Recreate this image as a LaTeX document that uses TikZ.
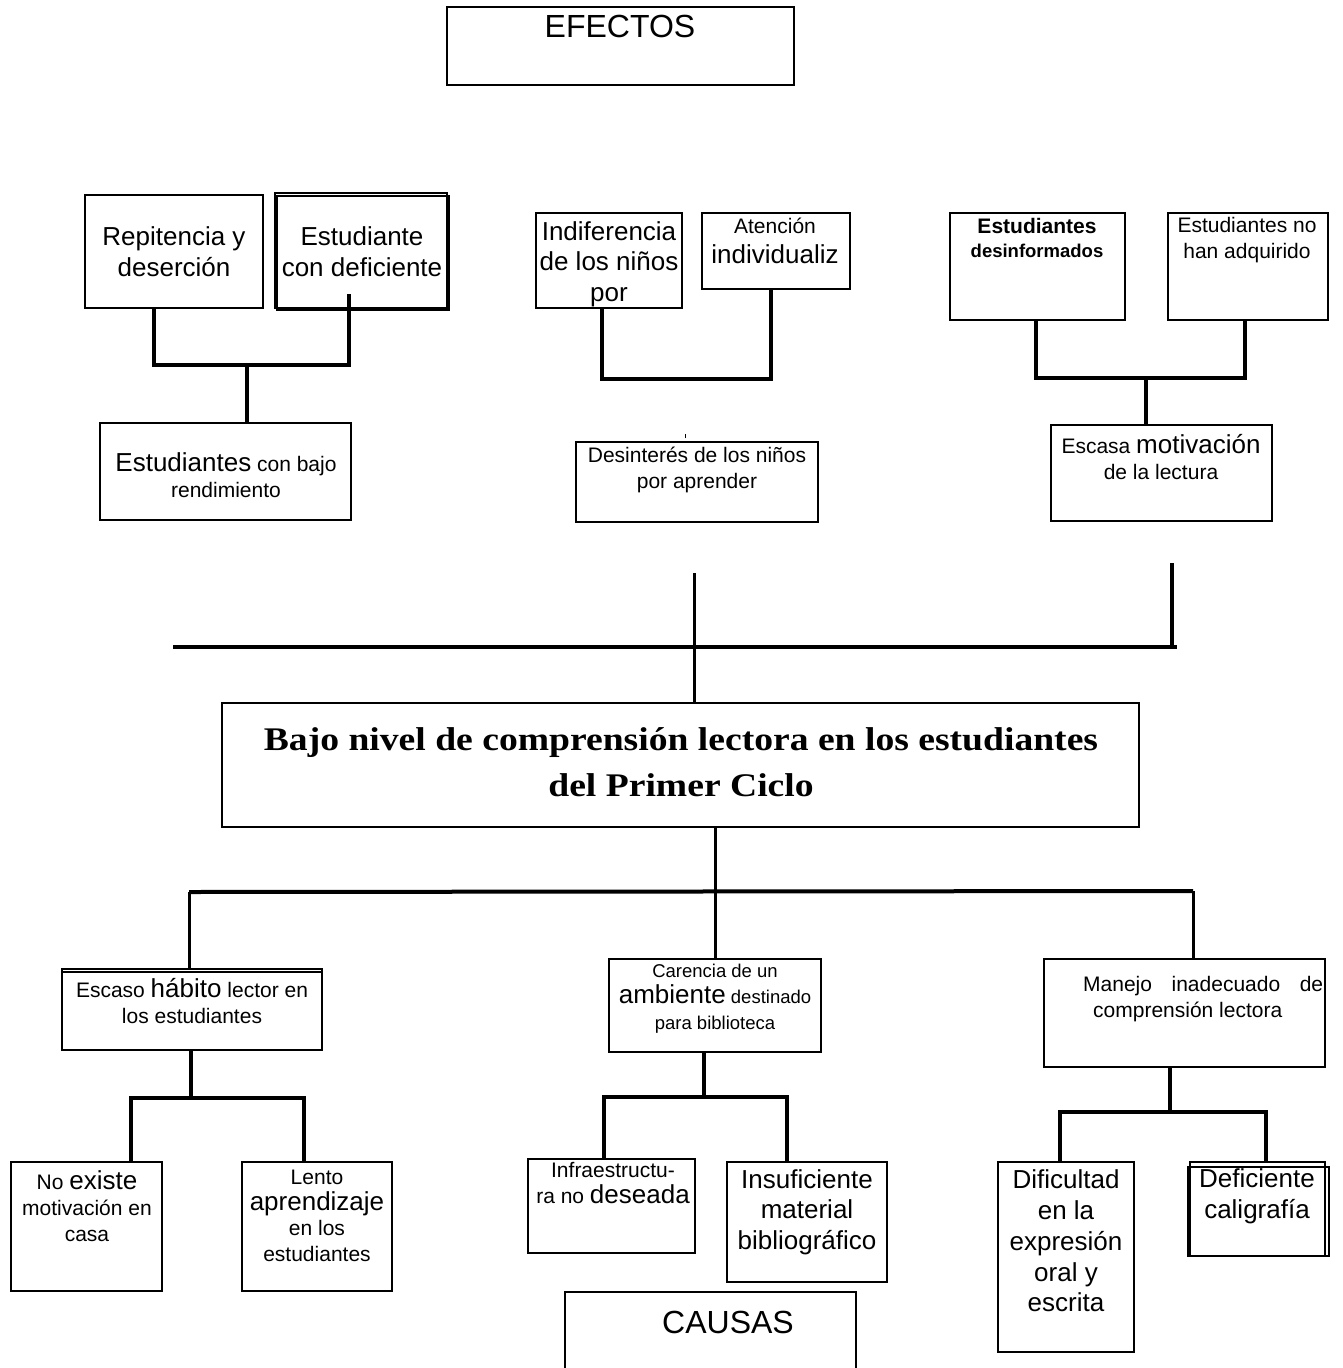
\documentclass[tikz,border=0pt]{standalone}
\usepackage{fontspec}
\setmainfont{Liberation Sans}
\newfontfamily\titlefont[FakeStretch=1.14]{Liberation Serif}
\usetikzlibrary{fit}
\newcommand\fsL{\fontsize{26}{30.7}\selectfont}
\newcommand\fsS{\fontsize{21}{25.7}\selectfont}
\newcommand\fsT{\fontsize{18.5}{26}\selectfont}
\tikzset{
  box/.style={draw, line width=1.3pt, inner sep=0pt},
  boxline/.style={line width=1.3pt},
  conn/.style={line width=4pt},
  mid/.style={line width=3pt},
  txt/.style={align=center, inner sep=0pt},
}
\begin{document}
\begin{tikzpicture}[x=1pt,y=-1pt]
\useasboundingbox (0,0) rectangle (1343,1368);
\fill[white] (0,0) rectangle (1343,1368);
\clip (0,0) rectangle (1343,1368);

% ---------- EFECTOS ----------
\node[box, fit={(447,7) (794,85)}] (efe) {};
\node[txt, font=\fontsize{32}{38}\selectfont] (efe-t) at (620,26) {EFECTOS};

% ---------- group 1 ----------
\node[box, fit={(85,195) (263,308)}] (rep) {};
\node[box, fit={(275,193) (447,308)}] (def) {};
\node[box, fit={(277,196) (449,310)}] (def2) {};
\node[box, fit={(100,423) (351,520)}] (bajo) {};
\node[txt, font=\fsL] (rep-t) at (174,252) {Repitencia y\\deserción};
\node[txt, font=\fsL] (def-t) at (362,252) {Estudiante\\con deficiente};
\node[txt, font=\fsS] (bajo-t) at (226,475) {{\fsL Estudiantes} con bajo\\rendimiento};
\coordinate (j1) at (247,365);
\draw[conn] ([xshift=-20pt]rep.south) |- (j1) -| ([xshift=-12pt,yshift=15pt]def.south);
\draw[conn] (j1) -- (j1 |- bajo.north);

% ---------- group 2 ----------
\node[box, fit={(536,213) (682,308)}] (ind) {};
\node[box, fit={(702,213) (850,289)}] (ate) {};
\node[box, fit={(576,442) (818,522)}] (des) {};
\node[txt, font=\fsL] (ind-t) at (609,264) {Indiferencia\\de los niños\\por};
\node[txt, font=\fsL] (ate-t) at (775,241) {{\fsS Atención}\\individualiz};
\node[txt, font=\fsS] (des-t) at (697,470) {Desinterés de los niños\\por aprender};
\draw[conn] ([xshift=-7pt]ind.south) -- ++(0,70) -| ([xshift=-5pt]ate.south);
\draw[line width=0.8pt] ([xshift=-12pt,yshift=3pt]des.north) -- ++(0,-4);

% ---------- group 3 ----------
\node[box, fit={(950,213) (1125,320)}] (desinf) {};
\node[box, fit={(1168,213) (1328,320)}] (noad) {};
\node[box, fit={(1051,425) (1272,521)}] (esc) {};
\node[txt, font=\bfseries\fontsize{21}{24.5}\selectfont] (desinf-t) at (1037,238) {Estudiantes\\{\fontsize{18.5}{24.5}\selectfont desinformados}};
\node[txt, font=\fsS] (noad-t) at (1247,240) {Estudiantes no\\han adquirido};
\node[txt, font=\fsS] (esc-t) at (1161,457) {Escasa {\fsL motivación}\\de la lectura};
\coordinate (j3) at (1146,378);
\draw[conn] ([xshift=-1.5pt]desinf.south) |- (j3) -| ([xshift=-3pt]noad.south);
\draw[conn] (j3) -- (j3 |- esc.north);

% ---------- central problem ----------
\node[box, fit={(222,703) (1139,827)}] (main) {};
\node[txt, font=\titlefont\bfseries\fontsize{33}{46}\selectfont] (main-t) at (681,762)
  {Bajo nivel de comprensión lectora en los estudiantes\\del Primer Ciclo};
\coordinate (hl) at (173,647);
\coordinate (hr) at (1177,647);
\coordinate (vr) at (1172,563);
\coordinate (vc) at (694,573);
\draw[conn] (hl) -- (hr);
\draw[conn] (vr) -- (vr |- hr);
\draw[mid] (vc) -- (vc |- main.north);

% ---------- causes level 1 ----------
\node[box, fit={(62,969) (322,1050)}] (hab) {};
\draw[boxline] ([yshift=-3.5pt]hab.north west) -- ([yshift=-3.5pt]hab.north east);
\node[box, fit={(609,959) (821,1052)}] (car) {};
\node[box, fit={(1044,959) (1325,1067)}] (man) {};
\node[txt, font=\fsS] (hab-t) at (192,1001) {Escaso {\fsL hábito} lector en\\los estudiantes};
\node[txt, font=\fsT] (car-t) at (715,999) {Carencia de un\\{\fsL ambiente} destinado\\para biblioteca};
\node[txt, font=\fsS, align=left, anchor=west] (man-t) at (1083,999)
  {\makebox[240pt][s]{Manejo inadecuado de}\\\hspace*{10pt}comprensión lectora};

\coordinate (bl) at (189,892);
\coordinate (br) at (1193,891);
\draw[mid] (main.south -| car.north) -- (car.north);
\draw[conn] (bl) -- (br);
\draw[mid] (bl) -- (bl |- hab.north);
\draw[mid] (br) -- (br |- man.north);

% ---------- causes level 2 ----------
\node[box, fit={(11,1162) (162,1291)}] (noex) {};
\node[box, fit={(242,1162) (392,1291)}] (lento) {};
\node[box, fit={(528,1159) (695,1253)}] (inf) {};
\node[box, fit={(727,1162) (887,1282)}] (insu) {};
\node[box, fit={(998,1162) (1134,1352)}] (dif) {};
\node[box, fit={(1190,1162) (1325,1256)}] (defc) {};
\node[box, fit={(1188,1167) (1329,1256)}] (defc2) {};
\node[box, fit={(565,1292) (856,1385)}] (causas) {};

\node[txt, font=\fsS] (noex-t) at (87,1206) {No {\fsL existe}\\motivación en\\casa};
\node[txt, font=\fsS] (lento-t) at (317,1216) {Lento\\{\fsL aprendizaje}\\en los\\estudiantes};
\node[txt, font=\fsS] (inf-t) at (613,1183) {Infraestructu-\\ra no {\fsL deseada}};
\node[txt, font=\fsL] (insu-t) at (807,1212) {Insuficiente\\material\\bibliográfico};
\node[txt, font=\fsL] (dif-t) at (1066,1241) {Dificultad\\en la\\expresión\\oral y\\escrita};
\node[txt, font=\fsL] (defc-t) at (1257,1196) {Deficiente\\caligrafía};
\node[txt, font=\fontsize{32}{38}\selectfont] (causas-t) at (728,1322) {CAUSAS};

\coordinate (k1) at (191,1098);
\draw[conn] (hab.south -| k1) -- (k1);
\draw[conn] ([xshift=44.5pt]noex.north) |- (k1) -| ([xshift=-13pt]lento.north);

\coordinate (k2) at (704,1097);
\draw[conn] (car.south -| k2) -- (k2);
\draw[conn] ([xshift=-7.5pt]inf.north) |- (k2) -| ([xshift=-20pt]insu.north);

\coordinate (k3) at (1170,1112);
\draw[conn] (man.south -| k3) -- (k3);
\draw[conn] ([xshift=-6pt]dif.north) |- (k3) -| ([xshift=8.5pt]defc.north);
\end{tikzpicture}
\end{document}
